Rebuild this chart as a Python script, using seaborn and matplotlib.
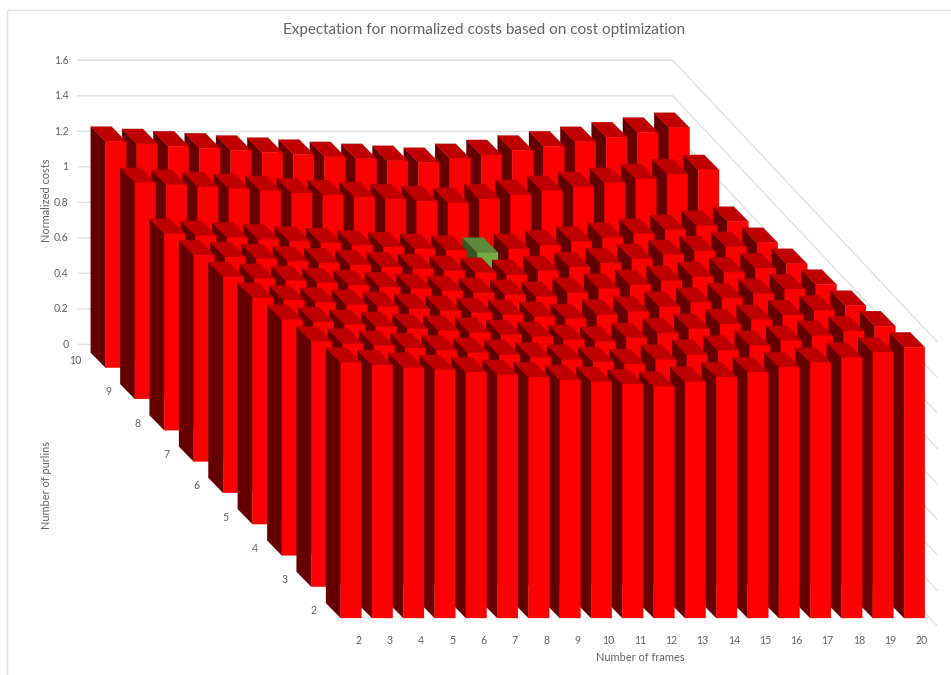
import numpy as np
import pandas as pd
import seaborn as sns
import matplotlib
matplotlib.use("Agg")
import matplotlib.pyplot as plt
from matplotlib.collections import PolyCollection
from matplotlib.patches import Rectangle

sns.set_theme(style="white")
plt.rcParams["font.family"] = ["Lato", "DejaVu Sans"]

frames = list(range(2, 21))
purlins = list(range(2, 11))
y_ticks = [0, 0.2, 0.4, 0.6, 0.8, 1, 1.2, 1.4, 1.6]

# Normalized cost per frame count (2..20), one list per purlin count
purlin_2 = [1.438, 1.425, 1.410, 1.397, 1.384, 1.369, 1.356, 1.341, 1.330, 1.317, 1.303, 1.330, 1.356, 1.384, 1.412, 1.438, 1.466, 1.497, 1.525]
purlin_3 = [1.381, 1.368, 1.357, 1.344, 1.330, 1.317, 1.306, 1.291, 1.278, 1.266, 1.254, 1.278, 1.306, 1.330, 1.357, 1.385, 1.413, 1.439, 1.468]
purlin_4 = [1.327, 1.314, 1.299, 1.287, 1.276, 1.265, 1.254, 1.242, 1.231, 1.214, 1.203, 1.225, 1.252, 1.276, 1.303, 1.327, 1.353, 1.379, 1.407]
purlin_5 = [1.274, 1.261, 1.248, 1.235, 1.224, 1.212, 1.201, 1.190, 1.179, 1.167, 1.156, 1.179, 1.197, 1.224, 1.248, 1.273, 1.297, 1.323, 1.349]
purlin_6 = [1.216, 1.205, 1.194, 1.181, 1.170, 1.158, 1.149, 1.137, 1.126, 1.115, 1.104, 1.126, 1.149, 1.171, 1.194, 1.216, 1.241, 1.265, 1.290]
purlin_7 = [1.162, 1.151, 1.140, 1.128, 1.117, 1.106, 1.095, 1.085, 1.074, 1.063, 1.051, 1.074, 1.095, 1.117, 1.141, 1.164, 1.186, 1.209, 1.232]
purlin_8 = [1.106, 1.095, 1.085, 1.074, 1.063, 1.054, 1.042, 1.031, 1.021, 1.012, 1.000, 1.021, 1.042, 1.063, 1.084, 1.106, 1.128, 1.151, 1.175]
purlin_9 = [1.217, 1.206, 1.194, 1.183, 1.172, 1.159, 1.148, 1.137, 1.125, 1.114, 1.104, 1.125, 1.149, 1.172, 1.194, 1.217, 1.239, 1.266, 1.290]
purlin_10 = [1.273, 1.260, 1.247, 1.236, 1.223, 1.211, 1.200, 1.187, 1.176, 1.165, 1.154, 1.176, 1.198, 1.223, 1.247, 1.272, 1.298, 1.324, 1.351]

costs = pd.DataFrame(
    [purlin_2, purlin_3, purlin_4, purlin_5, purlin_6, purlin_7, purlin_8, purlin_9, purlin_10],
    index=purlins, columns=frames,
)

# Oblique view: screen position of the floor corner of the chart, and the
# screen offset of one step along each axis
ORIGIN_X, ORIGIN_Y = 340.7, 618.0
STEP_FRAME = 31.3
STEP_PURLIN = (-29.4, -31.3)
UNIT_HEIGHT = 177.5
BAR_WIDTH = 20.7
BAR_DEPTH = (-14.7, -15.0)

RED = ("#FF0000", "#C00000", "#660000")
GREEN = ("#70AD47", "#5B8B3A", "#375623")
GRID = "#DEDEDE"
TEXT = "#636363"


def project(i, j, value=0.0):
    """Front-left floor corner of cell (i, j), lifted by value."""
    return (ORIGIN_X + STEP_FRAME * i + STEP_PURLIN[0] * j,
            ORIGIN_Y + STEP_PURLIN[1] * j - UNIT_HEIGHT * value)


fig = plt.figure(figsize=(9.51, 6.75), dpi=100)
ax = fig.add_axes([0, 0, 1, 1])
ax.set_xlim(0, 951)
ax.set_ylim(675, 0)
ax.axis("off")

ax.add_patch(Rectangle((7.3, 10), 960, 700, fill=False, ec="#E2E2E2", lw=1.0, zorder=0))

# Back wall and side wall grid lines
for tick in y_ticks:
    xa, ya = 77.5, 344.3 - UNIT_HEIGHT * tick
    xb = 672.7
    xc, yc = xb + 9 * -STEP_PURLIN[0], ya - 9 * STEP_PURLIN[1]
    sns.lineplot(x=[xa, xb, xc], y=[ya, ya, yc], sort=False, color=GRID, lw=0.9,
                 ax=ax, legend=False, estimator=None, zorder=1)
    ax.text(68.5, ya, f"{tick:g}", ha="right", va="center", fontsize=7.6, color=TEXT)

# Paint bars from the back row forward; within a row the left bar sits on top
polygons, colours = [], []
lowest = costs.stack().idxmin()
for j, purlin in reversed(list(enumerate(purlins))):
    for i, frame in reversed(list(enumerate(frames))):
        value = costs.loc[purlin, frame]
        front, top, side = GREEN if (purlin, frame) == lowest else RED
        x0, y0 = project(i, j)
        lift = UNIT_HEIGHT * value
        dx, dy = BAR_DEPTH
        polygons.append([(x0, y0), (x0 + dx, y0 + dy), (x0 + dx, y0 + dy - lift), (x0, y0 - lift)])
        colours.append(side)
        polygons.append([(x0, y0 - lift), (x0 + dx, y0 + dy - lift),
                         (x0 + dx + BAR_WIDTH, y0 + dy - lift), (x0 + BAR_WIDTH, y0 - lift)])
        colours.append(top)
        polygons.append([(x0, y0), (x0, y0 - lift), (x0 + BAR_WIDTH, y0 - lift), (x0 + BAR_WIDTH, y0)])
        colours.append(front)
bars = PolyCollection(polygons, facecolors=colours, edgecolors=colours, linewidths=0.2, zorder=2)
bars.set_snap(False)
ax.add_collection(bars)

for i, frame in enumerate(frames):
    x0, _ = project(i, 0)
    ax.text(x0 + 17.6, 640, str(frame), ha="center", va="center", fontsize=7.6, color=TEXT)
for j, purlin in enumerate(purlins):
    x0, y0 = project(0, j)
    ax.text(x0 - 23.7, y0 - 7, str(purlin), ha="right", va="center", fontsize=7.6, color=TEXT)

ax.text(484, 30, "Expectation for normalized costs based on cost optimization",
        ha="center", va="center", fontsize=11.0, color=TEXT)
ax.text(640, 657.5, "Number of frames", ha="center", va="center", fontsize=7.9, color=TEXT)
ax.text(46, 200, "Normalized costs", ha="center", va="center", rotation=90, fontsize=7.9, color=TEXT)
ax.text(46, 485, "Number of purlins", ha="center", va="center", rotation=90, fontsize=7.9, color=TEXT)

fig.savefig("out.png", dpi=100)
